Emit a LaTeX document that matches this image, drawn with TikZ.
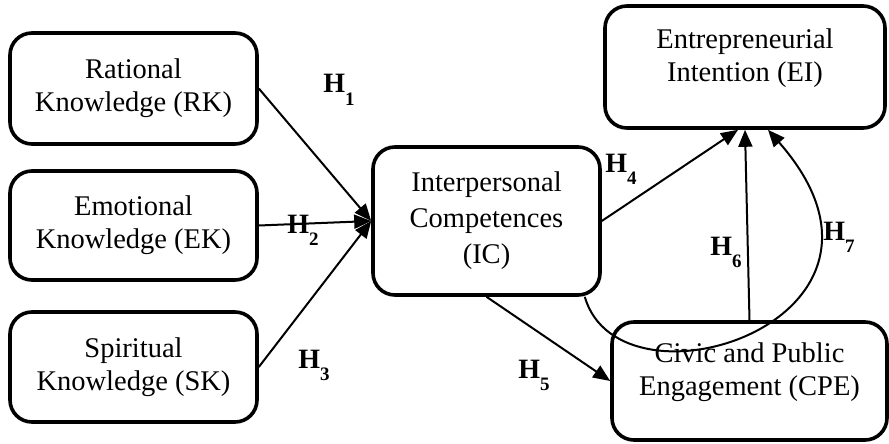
\documentclass[tikz,border=0pt]{standalone}
\usepackage{fontspec}
\setmainfont{Liberation Serif}
\usetikzlibrary{arrows.meta,positioning,shapes}

\newcommand{\hlab}[1]{\textbf{H}\raisebox{-6pt}{\fontsize{9.5}{9.5}\selectfont\textbf{#1}}}

\begin{document}
\begin{tikzpicture}[x=0.5pt, y=-0.5pt,
    box/.style={draw, line width=1.8pt, rounded corners=11pt, align=center,
      inner sep=0pt, font=\fontsize{14.25}{16.5}\selectfont},
    link/.style={line width=1pt, -{Triangle[length=8.5pt,width=7pt]}},
    hyp/.style={font=\fontsize{14}{14}\selectfont, inner sep=0pt, anchor=base west}]
  \useasboundingbox (0,0) rectangle (889,444);
  % constructs
  \node[box, minimum width=123.5pt, minimum height=55.5pt] (rk) at (133.5,88.5)
    {Rational\\Knowledge (RK)};
  \node[box, minimum width=123.5pt, minimum height=54.5pt] (ek) at (133.5,225.5)
    {Emotional\\Knowledge (EK)};
  \node[box, minimum width=123.5pt, minimum height=55pt] (sk) at (133.5,367)
    {Spiritual\\Knowledge (SK)};
  \node[box, minimum width=113.5pt, minimum height=74pt,
    font=\fontsize{14.25}{18}\selectfont] (ic) at (486.5,221)
    {Interpersonal\\Competences\\(IC)};
  \node[box, minimum width=140pt, minimum height=61pt, text depth=12pt] (ei) at (745,67)
    {Entrepreneurial\\Intention (EI)};
  \node[box, minimum width=137.5pt, minimum height=59pt, text depth=12pt] (cpe) at (749.5,381)
    {Civic and Public\\Engagement (CPE)};
  % paths
  \draw[link] (rk.east) -- (ic.west);
  \draw[link] (ek.east) -- (ic.west);
  \draw[link] (sk.east) -- (ic.west);
  \draw[link] (ic.east) -- ([xshift=-3.5pt]ei.south);
  \draw[link] (ic.south) -- (cpe.west);
  \draw[link] (cpe.north) -- (ei.south);
  \draw[link] ([xshift=-8.5pt]ic.south east) .. controls (620,420) and (935,320)
    .. ([xshift=11.5pt]ei.south);
  % hypotheses
  \node[hyp] (h1) at (323,93) {\hlab{1}};
  \node[hyp] (h2) at (287,233) {\hlab{2}};
  \node[hyp] (h3) at (298,368) {\hlab{3}};
  \node[hyp] (h4) at (605,172) {\hlab{4}};
  \node[hyp] (h5) at (518,378) {\hlab{5}};
  \node[hyp] (h6) at (710,255) {\hlab{6}};
  \node[hyp] (h7) at (823,240) {\hlab{7}};
\end{tikzpicture}
\end{document}
